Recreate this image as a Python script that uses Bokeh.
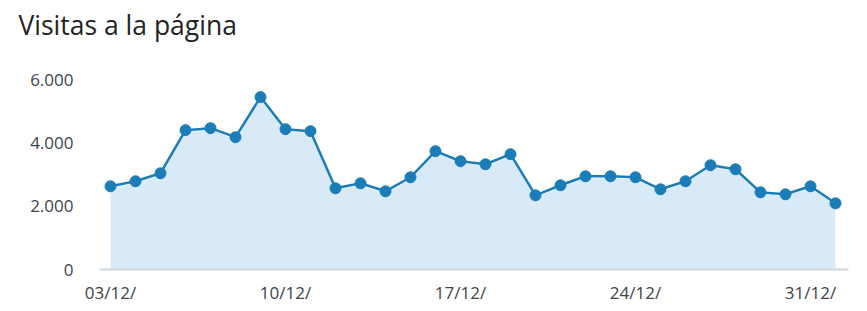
from bokeh.plotting import figure
from bokeh.models import FixedTicker, Range1d
from bokeh.embed import file_html
from bokeh.resources import INLINE

title_text = "Visitas a la página"
dates = ["03/12", "04/12", "05/12", "06/12", "07/12", "08/12", "09/12", "10/12",
         "11/12", "12/12", "13/12", "14/12", "15/12", "16/12", "17/12", "18/12",
         "19/12", "20/12", "21/12", "22/12", "23/12", "24/12", "25/12", "26/12",
         "27/12", "28/12", "29/12", "30/12", "31/12", "01/01"]
visits = [2635, 2794, 3048, 4413, 4476, 4190, 5460, 4444, 4381, 2571,
          2730, 2476, 2921, 3746, 3429, 3333, 3651, 2349, 2667, 2952,
          2952, 2921, 2540, 2794, 3302, 3175, 2444, 2381, 2635, 2095]
x_tick_idx = [0, 7, 14, 21, 28]
x_tick_labels = ["03/12/", "10/12/", "17/12/", "24/12/", "31/12/"]
y_ticks = [0, 2000, 4000, 6000]
y_tick_labels = ["0", "2.000", "4.000", "6.000"]

xs = list(range(len(dates)))

p = figure(width=867, height=311, output_backend="svg", toolbar_location=None,
           x_range=Range1d(-0.44, 29.52), y_range=Range1d(0, 7030),
           min_border_left=99, min_border_right=19, min_border_top=0,
           min_border_bottom=42)
p.title.text = title_text
p.title.text_font = "Open Sans"
p.title.text_font_size = "26.5px"
p.title.text_font_style = "normal"
p.title.text_color = "#1d2327"
p.title.align = "left"
p.title.offset = -81
p.title.standoff = 9

p.outline_line_color = None
p.grid.grid_line_color = None
p.background_fill_color = "white"
p.border_fill_color = "white"

p.varea(x=xs, y1=[0] * len(xs), y2=[v - 60 for v in visits], fill_color="#d8eaf7")
p.line(xs, visits, line_color="#1a7db8", line_width=2.5)
p.scatter(xs, visits, size=11, fill_color="#1a7db8", line_color="#1a7db8")

p.xaxis.ticker = FixedTicker(ticks=x_tick_idx)
p.xaxis.major_label_overrides = {i: l for i, l in zip(x_tick_idx, x_tick_labels)}
p.yaxis.ticker = FixedTicker(ticks=y_ticks)
p.yaxis.major_label_overrides = {t: l for t, l in zip(y_ticks, y_tick_labels)}

for ax in (p.xaxis, p.yaxis):
    ax.major_tick_line_color = None
    ax.minor_tick_line_color = None
    ax.major_label_text_font = "Open Sans"
    ax.major_label_text_font_size = "17px"
    ax.major_label_text_color = "#3c434a"
p.xaxis.axis_line_color = "#d0d5dc"
p.xaxis.axis_line_width = 2
p.yaxis.axis_line_color = None
p.xaxis.major_label_standoff = 5
p.yaxis.major_label_standoff = 20

open("out.html", "w").write(file_html(p, INLINE))
